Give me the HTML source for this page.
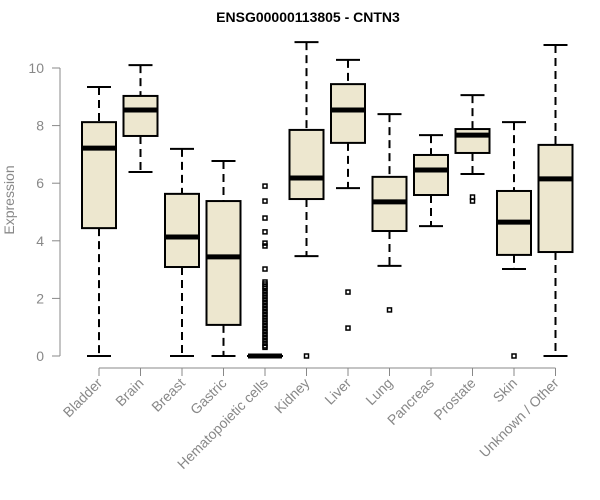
<!DOCTYPE html>
<html><head><meta charset="utf-8"><style>
body{margin:0;background:#fff}
svg{display:block;font-family:"Liberation Sans",sans-serif}
</style></head><body>
<svg id="chart" width="600" height="500">
<text x="308" y="22" text-anchor="middle" font-weight="bold" font-size="14">ENSG00000113805 - CNTN3</text>
<text transform="translate(14,200) rotate(-90)" text-anchor="middle" font-size="14" fill="#888">Expression</text>
<g id="axes"></g><g id="boxes"></g>
</svg>
<script>
const categories=["Bladder","Brain","Breast","Gastric","Hematopoietic cells","Kidney","Liver","Lung","Pancreas","Prostate","Skin","Unknown / Other"];
const whiskerLow=[0,6.39,0,0,0,3.47,5.83,3.13,4.51,6.32,3.02,0];
const q1=[4.44,7.64,3.09,1.08,0,5.45,7.4,4.34,5.59,7.05,3.51,3.61];
const medians=[7.22,8.54,4.13,3.44,0,6.18,8.54,5.35,6.46,7.67,4.65,6.15];
const q3=[8.12,9.03,5.63,5.38,0,7.85,9.44,6.22,6.98,7.88,5.73,7.33];
const whiskerHigh=[9.34,10.1,7.19,6.77,0,10.9,10.28,8.4,7.67,9.06,8.12,10.8];
const outliers=[[],[],[],[],[5.9,5.38,4.79,4.31,3.92,3.82,3.02,2.57,2.5,2.42,2.35,2.25,2.15,2.05,1.95,1.85,1.75,1.65,1.55,1.45,1.35,1.25,1.15,1.05,0.95,0.85,0.75,0.65,0.55,0.45,0.35,0.3],[0],[2.22,0.97],[1.6],[],[5.52,5.38],[0],[]];
const yTicks=[0,2,4,6,8,10];
const NS="http://www.w3.org/2000/svg";
const y=v=>356-v*28.8;
const x=i=>99+i*41.5;
function mk(tag,attrs,parent){const e=document.createElementNS(NS,tag);for(const k in attrs)e.setAttribute(k,attrs[k]);parent.appendChild(e);return e;}
const ax=document.getElementById('axes'),bx=document.getElementById('boxes');
let yl=mk('line',{x1:60,x2:60,y1:y(0),y2:y(10),stroke:'#888'},ax);


yTicks.forEach(t=>{
 mk('line',{x1:52,x2:60,y1:y(t),y2:y(t),stroke:'#888'},ax);
 let tx=mk('text',{x:44,y:y(t)+5,'text-anchor':'end','font-size':14,fill:'#888'},ax);tx.textContent=t;
 
 
});
let xl=mk('line',{x1:x(0),x2:x(11),y1:368,y2:368,stroke:'#888'},ax);


categories.forEach((c,i)=>{
 const cx=x(i);
 mk('line',{x1:cx,x2:cx,y1:368,y2:376,stroke:'#888'},ax);
 let t=mk('text',{transform:`translate(${cx+4},384) rotate(-45)`,'text-anchor':'end','font-size':14,fill:'#888'},ax);t.textContent=c;
 
 
 const g=mk('g',{},bx);
 
 
 const hw=17,cw=12;
 mk('line',{x1:cx,x2:cx,y1:y(whiskerHigh[i]),y2:y(q3[i]),stroke:'#000','stroke-width':2,'stroke-dasharray':'8,5'},g);
 mk('line',{x1:cx,x2:cx,y1:y(q1[i]),y2:y(whiskerLow[i]),stroke:'#000','stroke-width':2,'stroke-dasharray':'8,5'},g);
 mk('line',{x1:cx-cw,x2:cx+cw,y1:y(whiskerHigh[i]),y2:y(whiskerHigh[i]),stroke:'#000','stroke-width':2},g);
 mk('line',{x1:cx-cw,x2:cx+cw,y1:y(whiskerLow[i]),y2:y(whiskerLow[i]),stroke:'#000','stroke-width':2},g);
 mk('rect',{x:cx-hw,y:y(q3[i]),width:2*hw,height:Math.max(0.01,y(q1[i])-y(q3[i])),fill:'#ede7cf',stroke:'#000','stroke-width':2},g);
 mk('line',{x1:cx-hw,x2:cx+hw,y1:y(medians[i]),y2:y(medians[i]),stroke:'#000','stroke-width':5},g);
 outliers[i].forEach(v=>mk('rect',{x:cx-2,y:y(v)-2,width:4,height:4,fill:'none',stroke:'#000','stroke-width':1.5},g));
});
</script>
</body></html>
